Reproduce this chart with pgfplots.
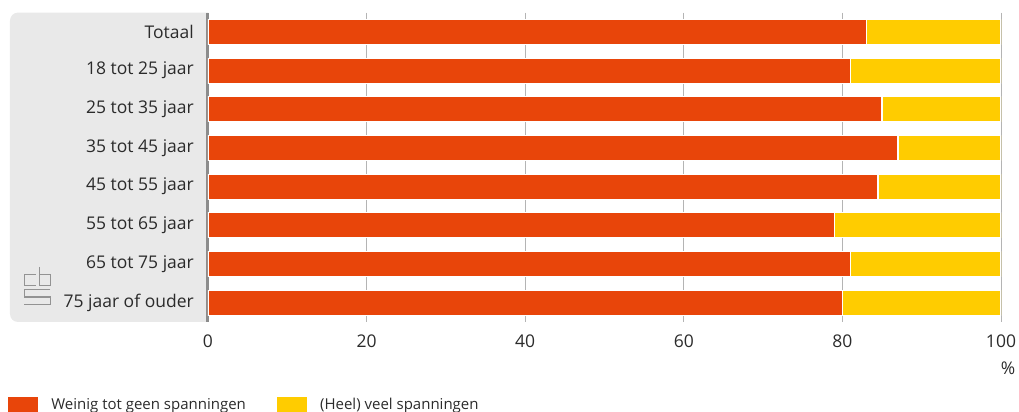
\documentclass[border=0pt]{standalone}
\usepackage{fontspec}
\setmainfont{Open Sans}
\usepackage{pgfplots}
\pgfplotsset{compat=1.18}
\usetikzlibrary{calc,backgrounds}
\definecolor{cbsorange}{HTML}{E8450A}
\definecolor{cbsyellow}{HTML}{FFCC00}
\definecolor{panelgray}{HTML}{E9E9E9}
\definecolor{axisgray}{HTML}{8C8C8C}
\definecolor{gridgray}{HTML}{B4B4B4}
\definecolor{logogray}{HTML}{939393}
\definecolor{txt}{HTML}{2B2B2B}

\begin{document}
\begin{tikzpicture}[font=\fontsize{17.5bp}{21bp}\selectfont, text=txt]
\begin{axis}[
    name=ax,
    scale only axis,
    width=793bp, height=309.4bp,
    xbar stacked,
    bar width=25bp,
    y dir=reverse,
    xmin=0, xmax=100,
    ymin=-0.5, ymax=7.5,
    xtick={0,20,...,100},
    ytick={0,...,7},
    yticklabels={Totaal,18 tot 25 jaar,25 tot 35 jaar,35 tot 45 jaar,45 tot 55 jaar,55 tot 65 jaar,65 tot 75 jaar,75 jaar of ouder},
    /pgf/number format/assume math mode=true,
    major tick length=0pt,
    xmajorgrids,
    major grid style={gridgray, line width=1bp},
    axis lines*=left,
    axis line style={-},
    x axis line style={draw=none},
    y axis line style={draw=axisgray, line width=3bp},
    yticklabel style={inner sep=0pt, anchor=east, xshift=-14bp},
    xticklabel style={inner sep=0pt, anchor=north, yshift=-13bp},
    legend style={at={(axis description cs:-0.2535,-0.239)}, anchor=north west,
        draw=none, fill=none, inner sep=0pt, column sep=12bp,
        font=\fontsize{15bp}{18bp}\selectfont,
        nodes={inner sep=0pt, anchor=west},
        /tikz/every even column/.append style={column sep=30bp}},
    legend columns=2,
    legend image code/.code={\fill[#1] (0bp,-8bp) rectangle (31bp,8bp);},
]
\addplot[fill=cbsorange, draw=white, line width=1.2bp] coordinates {
    (83,0) (81,1) (85,2) (87,3) (84.5,4) (79,5) (81,6) (80,7)};
\addplot[fill=cbsyellow, draw=white, line width=1.2bp] coordinates {
    (17,0) (19,1) (15,2) (13,3) (15.5,4) (21,5) (19,6) (20,7)};
\legend{Weinig tot geen spanningen,(Heel) veel spanningen}
\end{axis}
\coordinate (O) at ($(ax.north west)+(-208bp,12.6bp)$);
\node[anchor=north, inner sep=0pt] at ($(ax.south east)+(7bp,-40bp)$) {\%};
\begin{scope}[on background layer, shift={(O)}, x=1bp, y=-1bp]
  \fill[panelgray] (208,12.6) {[rounded corners=8bp] -- (10,12.6) -- (10,322)} -- (208,322) -- cycle;
  \begin{scope}[draw=logogray, line width=1.2bp, line join=miter, double=panelgray, double distance=1.6bp]
    \draw (36,274.5) -- (24.5,274.5) -- (24.5,285.5) -- (36,285.5);
    \draw (39.5,267) -- (39.5,285.5) -- (50.5,285.5) -- (50.5,274.5) -- (39.5,274.5);
    \draw (50.5,289.5) -- (24.5,289.5) -- (24.5,297) -- (50.5,297) -- (50.5,304.5) -- (24,304.5);
  \end{scope}
\end{scope}
\pgfresetboundingbox
\path[use as bounding box] (O) rectangle ($(O)+(1019bp,-412bp)$);
\end{tikzpicture}
\end{document}
